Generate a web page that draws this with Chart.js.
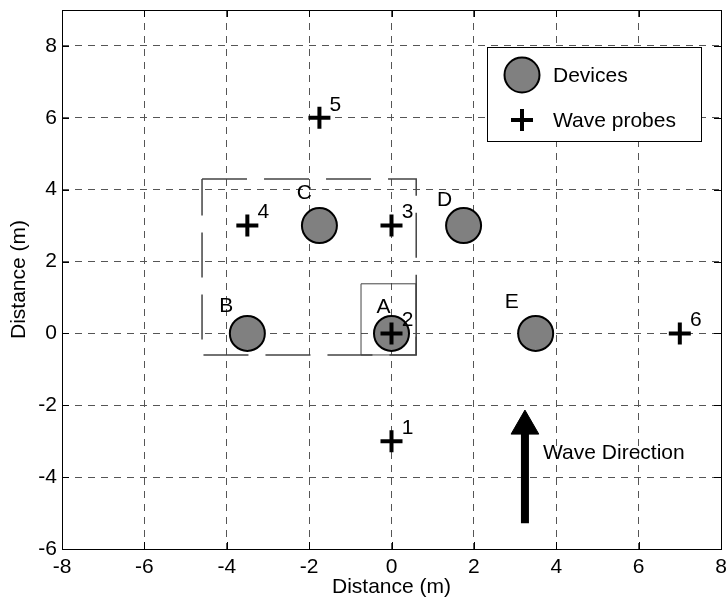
<!DOCTYPE html>
<html>
<head>
<meta charset="utf-8">
<script src="https://cdn.jsdelivr.net/npm/chart.js@4.4.1/dist/chart.umd.min.js"></script>
<style>
  html,body{margin:0;padding:0;background:#fff;}
  #wrap{width:727px;height:600px;}
</style>
</head>
<body>
<div id="wrap"><canvas id="layout"></canvas></div>
<script>
// tick labels
const xTicks=[-8,-6,-4,-2,0,2,4,6,8];
const yTicks=[-6,-4,-2,0,2,4,6,8];
// devices
const devNames=['A','B','C','D','E'];
const devX=[0,-3.5,-1.75,1.75,3.5];
const devY=[0,0,3,3,0];
// wave probes
const probeNames=['1','2','3','4','5','6'];
const probeX=[0,0,0,-3.5,-1.75,7];
const probeY=[-3,0,3,3,6,0];
// outlines (closed corner lists)
const bigBoxX=[-4.6,0.6,0.6,-4.6,-4.6];
const bigBoxY=[4.3,4.3,-0.6,-0.6,4.3];
const smallBoxX=[-0.74,0.6,0.6,-0.74,-0.74];
const smallBoxY=[1.38,1.38,-0.6,-0.6,1.38];
// wave direction arrow (tail, head)
const arrowX=[3.24,3.24];
const arrowY=[-5.28,-2.58];
const waveText='Wave Direction';
const waveTextAt=[3.68,-3.33];

// label nudges in px
const devLabelOff=[[-8,-26],[-21,-27],[-15,-32],[-19,-25],[-24,-31]];
const probeLabelOff=[16,-13];

const FONT='"Liberation Sans", Arial, sans-serif';
Chart.defaults.font.family=FONT;
Chart.defaults.font.size=21;
Chart.defaults.color='#000';

const pts=(xs,ys)=>xs.map((v,i)=>({x:v,y:ys[i]}));

const overlay={
  id:'overlay',
  afterDatasetsDraw(chart){
    const {ctx,chartArea:a,scales:{x,y}}=chart;
    ctx.save();
    ctx.fillStyle='#000';
    ctx.font='21px '+FONT;
    ctx.textAlign='center';
    ctx.textBaseline='middle';
    devNames.forEach((n,i)=>{
      const o=devLabelOff[i];
      ctx.fillText(n,x.getPixelForValue(devX[i])+o[0],y.getPixelForValue(devY[i])+o[1]);
    });
    probeNames.forEach((n,i)=>{
      ctx.fillText(n,x.getPixelForValue(probeX[i])+probeLabelOff[0],y.getPixelForValue(probeY[i])+probeLabelOff[1]);
    });
    ctx.textAlign='left';
    ctx.fillText(waveText,x.getPixelForValue(waveTextAt[0]),y.getPixelForValue(waveTextAt[1]));

    // box + inward ticks
    ctx.strokeStyle='#000';
    ctx.lineWidth=1;
    ctx.strokeRect(a.left+0.5,a.top+0.5,a.right-a.left,a.bottom-a.top);
    ctx.beginPath();
    xTicks.forEach(v=>{
      const p=Math.round(x.getPixelForValue(v))+0.5;
      ctx.moveTo(p,a.bottom);ctx.lineTo(p,a.bottom-7);
      ctx.moveTo(p,a.top);ctx.lineTo(p,a.top+7);
    });
    yTicks.forEach(v=>{
      const p=Math.round(y.getPixelForValue(v))+0.5;
      ctx.moveTo(a.left,p);ctx.lineTo(a.left+7,p);
      ctx.moveTo(a.right,p);ctx.lineTo(a.right-7,p);
    });
    ctx.stroke();

    // legend
    const lw=214,lh=94;
    const lx=a.right-20-lw, ly=a.top+37;
    ctx.fillStyle='#fff';
    ctx.fillRect(lx,ly,lw,lh);
    ctx.strokeRect(lx+0.5,ly+0.5,lw,lh);
    const dev=chart.data.datasets[1], prb=chart.data.datasets[0];
    const sx=lx+35;
    // devices symbol
    ctx.beginPath();
    ctx.arc(sx,ly+28,dev.pointRadius,0,Math.PI*2);
    ctx.fillStyle=dev.backgroundColor;ctx.fill();
    ctx.lineWidth=dev.pointBorderWidth;ctx.strokeStyle=dev.borderColor;ctx.stroke();
    // probe symbol
    ctx.beginPath();
    ctx.lineWidth=prb.pointBorderWidth;ctx.strokeStyle=prb.borderColor;
    ctx.moveTo(sx-prb.pointRadius,ly+73);ctx.lineTo(sx+prb.pointRadius,ly+73);
    ctx.moveTo(sx,ly+73-prb.pointRadius);ctx.lineTo(sx,ly+73+prb.pointRadius);
    ctx.stroke();
    ctx.fillStyle='#000';
    ctx.fillText(dev.label,lx+66,ly+29);
    ctx.fillText(prb.label,lx+66,ly+74);
    ctx.restore();
  }
};

let chartLayout=new Chart(document.getElementById('layout'),{
  type:'scatter',
  data:{datasets:[
    {label:'Wave probes',data:pts(probeX,probeY),pointStyle:'cross',pointRadius:11,pointBorderWidth:4,
     borderColor:'#000',backgroundColor:'#000'},
    {label:'Devices',data:pts(devX,devY),pointStyle:'circle',pointRadius:17.5,pointBorderWidth:2,
     borderColor:'#000',backgroundColor:'#808080'},
    {label:'Wave Direction',data:pts(arrowX,arrowY),showLine:true,borderColor:'#000',borderWidth:8,
     borderCapStyle:'butt',pointStyle:'triangle',pointRadius:[0,16],pointBorderWidth:1,
     pointBorderColor:'#000',pointBackgroundColor:'#000'},
    {label:'Group',data:pts(bigBoxX,bigBoxY),showLine:true,borderColor:'#444',borderWidth:1.5,
     borderDash:[45,17],pointRadius:0},
    {label:'Single',data:pts(smallBoxX,smallBoxY),showLine:true,borderColor:'#444',borderWidth:1,
     pointRadius:0}
  ]},
  options:{
    responsive:true,
    maintainAspectRatio:false,
    animation:false,
    events:[],
    layout:{autoPadding:false,padding:{left:0,top:10,right:6,bottom:0}},
    plugins:{legend:{display:false},tooltip:{enabled:false}},
    scales:{
      x:{
        type:'linear',min:-8,max:8,
        afterBuildTicks:s=>{s.ticks=xTicks.map(v=>({value:v}));},
        afterFit:s=>{s.height=51;s.paddingLeft=0;s.paddingRight=0;},
        grid:{color:'#555',lineWidth:1,drawTicks:false},
        border:{display:false,dash:[7,6]},
        ticks:{color:'#000',padding:6,maxRotation:0,autoSkip:false},
        title:{display:true,text:'Distance (m)',color:'#000',padding:{top:0,bottom:0}}
      },
      y:{
        type:'linear',min:-6,max:9,
        afterBuildTicks:s=>{s.ticks=yTicks.map(v=>({value:v}));},
        afterFit:s=>{s.width=62;s.paddingTop=0;s.paddingBottom=0;},
        grid:{color:'#555',lineWidth:1,drawTicks:false},
        border:{display:false,dash:[7,6]},
        ticks:{color:'#000',padding:5,autoSkip:false},
        title:{display:true,text:'Distance (m)',color:'#000',padding:{top:7,bottom:0}}
      }
    }
  },
  plugins:[overlay]
});
</script>
</body>
</html>
